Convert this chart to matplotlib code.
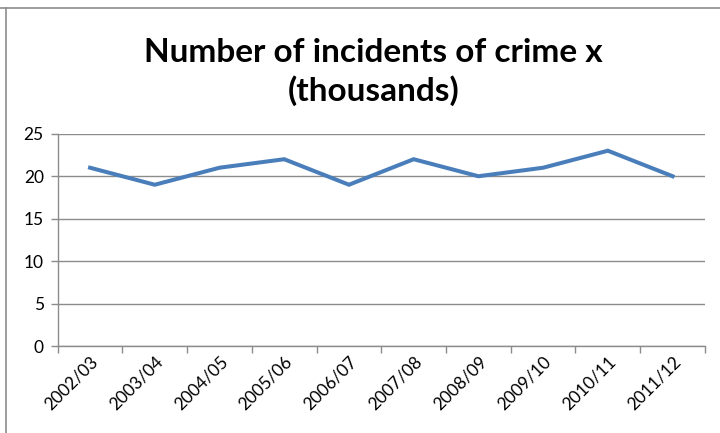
import matplotlib.pyplot as plt
from matplotlib.lines import Line2D

years = ['2002/03', '2003/04', '2004/05', '2005/06', '2006/07',
         '2007/08', '2008/09', '2009/10', '2010/11', '2011/12']
incidents = [21, 19, 21, 22, 19, 22, 20, 21, 23, 20]
y_ticks = [0, 5, 10, 15, 20, 25]

plt.rcParams['font.family'] = ['Lato', 'DejaVu Sans']

fig = plt.figure(figsize=(7.2, 4.33), dpi=100)
ax = fig.add_axes([0.0801, 0.2002, 0.899, 0.491])

x = list(range(len(years)))
ax.plot(x, incidents, color='#4A7EBB', linewidth=2.9, solid_joinstyle='miter')

ax.set_xlim(-0.5, len(years) - 0.5)
ax.set_ylim(0, 25)
ax.set_yticks(y_ticks)
ax.set_yticklabels([str(v) for v in y_ticks], fontsize=12.5)
ax.yaxis.grid(True, color='#8c8c8c', linewidth=1)
ax.set_axisbelow(True)

# category ticks between labels, labels at centres
ax.set_xticks([i - 0.5 for i in range(len(years) + 1)])
ax.set_xticklabels([])
ax.set_xticks(x, minor=True)
ax.set_xticklabels(years, minor=True, rotation=45, ha='right',
                   rotation_mode='anchor', fontsize=12.5)
ax.tick_params(axis='x', which='minor', length=0, pad=5)
ax.tick_params(axis='x', which='major', length=5, color='#8c8c8c', width=1)
ax.tick_params(axis='y', length=5, color='#8c8c8c', width=1, pad=5)

for side in ['top', 'right']:
    ax.spines[side].set_visible(False)
for side in ['left', 'bottom']:
    ax.spines[side].set_color('#8c8c8c')
    ax.spines[side].set_linewidth(1)

fig.text(0.519, 0.833, 'Number of incidents of crime x\n(thousands)',
         ha='center', va='center', fontsize=24, fontweight='bold',
         linespacing=1.32)

# chart border (left and top edges only visible)
top = 1 - 7.5 / 433
left = 6.5 / 720
fig.add_artist(Line2D([left, left], [0, top], transform=fig.transFigure,
                      color='#8c8c8c', linewidth=1.2))
fig.add_artist(Line2D([0, 1], [top, top], transform=fig.transFigure,
                      color='#8c8c8c', linewidth=1.2))

fig.savefig('out.png', dpi=100)
